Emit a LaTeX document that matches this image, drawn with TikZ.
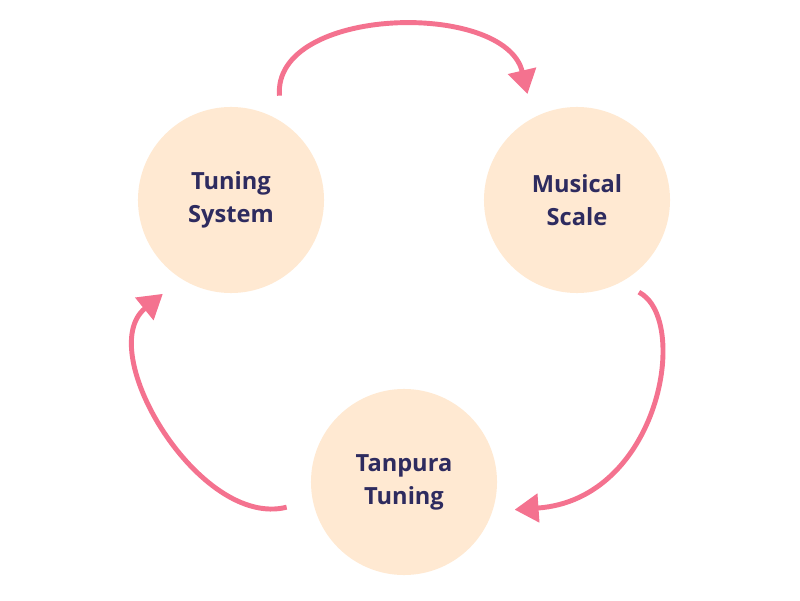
\documentclass[tikz,border=0pt]{standalone}
\usepackage{fontspec}
\setmainfont{Open Sans}
\usepackage{xcolor}
\usetikzlibrary{positioning, arrows.meta, calc}

\definecolor{peach}{HTML}{FFE9D2}
\definecolor{inkblue}{HTML}{2E2B5F}
\definecolor{rosepink}{HTML}{F4728F}

\tikzset{
    stage/.style={circle, fill=peach, minimum size=4.65cm, inner sep=0pt, outer sep=0pt,
        align=center, text=inkblue, font=\bfseries\fontsize{16.8}{23.5}\selectfont},
    cyclearrow/.style={rosepink, line width=3.5pt,
        -{Triangle[length=17pt, width=20pt]}}
}

\begin{document}
\begin{tikzpicture}[x=0.025cm, y=0.025cm]
    \useasboundingbox (0,0) rectangle (800,600);

    % ---------------- STAGES ----------------
    \node[stage] (tuning) at (231,400) {Tuning\\System};
    \node[stage] (scale) at (577,400) {Musical\\Scale};
    \node[stage] (tanpura) at (404,118) {Tanpura\\Tuning};

    % ---------------- CYCLE ARROWS ----------------
    \draw[cyclearrow] ([shift={(65.4:22)}]tuning.65.4)
        .. controls +(-7,90) and +(-22,94) .. ([shift={(115.3:24)}]scale.115.3);
    \draw[cyclearrow] ([shift={(-56.7:18)}]scale.-56.7)
        .. controls +(52,-27) and +(145,10) .. ([shift={(-14.2:21)}]tanpura.-14.2);
    \draw[cyclearrow] ([shift={(192.5:27)}]tanpura.192.5)
        .. controls +(-87,-22) and +(-70,-57) .. ([shift={(234:23)}]tuning.234);
\end{tikzpicture}
\end{document}
